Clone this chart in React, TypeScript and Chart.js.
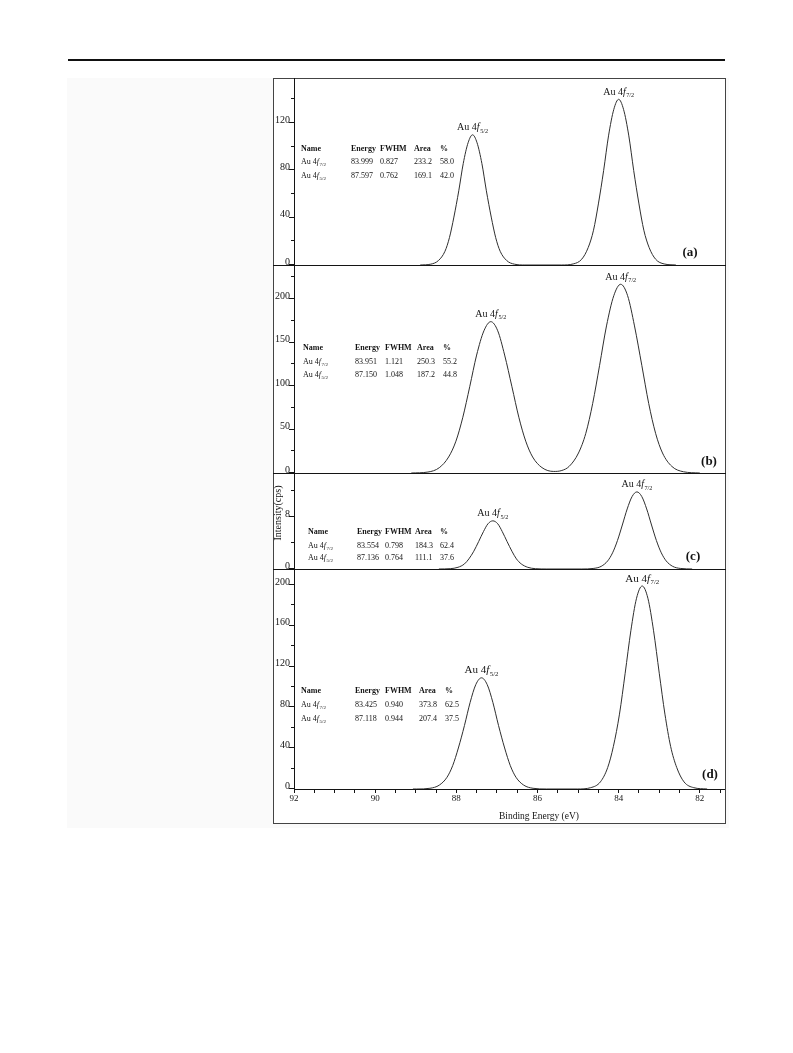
import { useEffect, useRef } from "react";
import { Chart, registerables } from "chart.js";

Chart.register(...registerables);

const SERIF = '"Liberation Serif", "Times New Roman", serif';
const INK = "#141414";
const TRACE = "#2e2e2e";

// ---------------------------------------------------------------------------
// Data
// ---------------------------------------------------------------------------

// Binding-energy axis (eV), running from high (left) to low (right)
const energyAxisLeft = 92;
const energyAxisRight = 81.38;
const energyTickStep = 0.5;
const energyLabels = [92, 90, 88, 86, 84, 82];

// (a) Au 4f envelope: binding energy (eV) and intensity (cps)
const energyA = [
  88.89, 88.63, 88.44, 88.28, 88.17, 88.06, 87.94, 87.83, 87.71, 87.6, 87.49, 87.37, 87.26,
  87.14, 87.03, 86.92, 86.76, 86.57, 86.31, 85.41, 85.12, 84.91, 84.75, 84.62, 84.5, 84.37,
  84.25, 84.12, 84.0, 83.88, 83.75, 83.63, 83.5, 83.38, 83.25, 83.09, 82.88, 82.59,
];
const countsA = [
  0, 0.7, 3.8, 11.6, 23.1, 40.5, 62.7, 85.7, 103.3, 110, 103.3, 85.7, 62.7, 40.5, 23.1, 11.6,
  3.8, 0.7, 0, 0, 0.9, 4.9, 14.8, 29.4, 51.6, 79.9, 109.1, 131.5, 140, 131.5, 109.1, 79.9, 51.6,
  29.4, 14.8, 4.9, 0.9, 0,
];

// (b)
const energyB = [
  89.11, 88.7, 88.42, 88.19, 88.01, 87.84, 87.67, 87.5, 87.32, 87.15, 86.98, 86.81, 86.63,
  86.46, 86.29, 86.12, 85.89, 85.6, 85.4, 85.22, 84.99, 84.81, 84.64, 84.47, 84.3, 84.12, 83.95,
  83.78, 83.61, 83.43, 83.26, 83.09, 82.92, 82.69, 82.4, 82.0,
];
const countsB = [
  0, 1.1, 6.1, 18.4, 36.6, 64.1, 99.2, 135.6, 163.5, 174, 163.5, 135.6, 99.2, 64.1, 36.6, 18.4,
  6.2, 1.8, 2.9, 7.6, 23.0, 45.6, 80.0, 123.8, 169.1, 203.9, 217, 203.9, 169.1, 123.8, 80.0,
  45.6, 23.0, 7.6, 1.4, 0,
];

// (c)
const energyC = [
  88.43, 88.15, 87.96, 87.8, 87.69, 87.57, 87.45, 87.33, 87.22, 87.1, 86.98, 86.87, 86.75,
  86.63, 86.52, 86.4, 86.24, 86.05, 85.77, 84.91, 84.63, 84.43, 84.27, 84.15, 84.03, 83.91,
  83.79, 83.67, 83.55, 83.43, 83.31, 83.19, 83.07, 82.95, 82.83, 82.67, 82.47, 82.19,
];
const countsC = [
  0, 0.05, 0.26, 0.78, 1.56, 2.73, 4.22, 5.77, 6.95, 7.4, 6.95, 5.77, 4.22, 2.73, 1.56, 0.78,
  0.26, 0.05, 0, 0, 0.08, 0.41, 1.25, 2.49, 4.37, 6.76, 9.23, 11.13, 11.85, 11.13, 9.23, 6.76,
  4.37, 2.49, 1.25, 0.41, 0.08, 0,
];

// (d)
const energyD = [
  89.07, 88.98, 88.65, 88.42, 88.23, 88.09, 87.95, 87.8, 87.66, 87.52, 87.38, 87.24, 87.1,
  86.96, 86.81, 86.67, 86.53, 86.34, 86.11, 85.78, 85.02, 84.69, 84.45, 84.27, 84.13, 83.98,
  83.84, 83.7, 83.56, 83.42, 83.28, 83.14, 83.0, 82.86, 82.72, 82.57, 82.39, 82.15, 81.82,
];
const countsD = [
  0, 0, 0.7, 3.8, 11.5, 22.9, 40.2, 62.2, 84.9, 102.4, 109, 102.4, 84.9, 62.2, 40.2, 22.9,
  11.5, 3.8, 0.7, 0, 0, 1.3, 7.0, 21.1, 41.8, 73.4, 113.5, 155.1, 187.0, 199, 187.0, 155.1,
  113.5, 73.4, 41.8, 21.1, 7.0, 1.3, 0,
];

// Spin-orbit components, in the order their peaks appear from left to right
const peakSubscripts = ["5/2", "7/2"];

// Fit summary tables
const tableHeader = ["Name", "Energy", "FWHM", "Area", "%"];
const tableRowSubscripts = ["7/2", "5/2"];
const fitA = [
  ["83.999", "0.827", "233.2", "58.0"],
  ["87.597", "0.762", "169.1", "42.0"],
];
const fitB = [
  ["83.951", "1.121", "250.3", "55.2"],
  ["87.150", "1.048", "187.2", "44.8"],
];
const fitC = [
  ["83.554", "0.798", "184.3", "62.4"],
  ["87.136", "0.764", "111.1", "37.6"],
];
const fitD = [
  ["83.425", "0.940", "373.8", "62.5"],
  ["87.118", "0.944", "207.4", "37.5"],
];

// Intensity axes: labelled ticks, minor tick step, upper limit
const yLabelsA = [0, 40, 80, 120];
const yLabelsB = [0, 50, 100, 150, 200];
const yLabelsC = [0, 8];
const yLabelsD = [0, 40, 80, 120, 160, 200];
const yStepA = 20;
const yStepB = 25;
const yStepC = 4;
const yStepD = 20;
const yMaxA = 158;
const yMaxB = 238;
const yMaxC = 14.6;
const yMaxD = 214.7;

const xAxisTitle = "Binding Energy (eV)";
const yAxisTitle = "Intensity(cps)";

// ---------------------------------------------------------------------------
// Layout (page pixels)
// ---------------------------------------------------------------------------

const FRAME_LEFT = 273;
const FRAME_TOP = 78;
const FRAME_W = 453;
const FRAME_H = 746;
const CANVAS_W = 452;
const AXIS_W = 21;
const X_AXIS_H = 34;
const TABLE_FONT = 8;
const SEPARATORS = [265, 473, 569];

type Panel = {
  letter: string;
  energy: number[];
  counts: number[];
  fit: string[][];
  yLabels: number[];
  yStep: number;
  yMax: number;
  top: number;
  height: number;
  padBottom: number;
  showX: boolean;
  tableCols: number[];
  tableRows: number[];
  letterAt: [number, number];
  peakFont: number;
  extra?: (ctx: CanvasRenderingContext2D, ox: number, oy: number) => void;
};

const panels: Panel[] = [
  {
    letter: "a",
    energy: energyA,
    counts: countsA,
    fit: fitA,
    yLabels: yLabelsA,
    yStep: yStepA,
    yMax: yMaxA,
    top: 78,
    height: 189,
    padBottom: 2,
    showX: false,
    tableCols: [301, 351, 380, 414, 440],
    tableRows: [148, 161, 175],
    letterAt: [690, 253],
    peakFont: 10,
  },
  {
    letter: "b",
    energy: energyB,
    counts: countsB,
    fit: fitB,
    yLabels: yLabelsB,
    yStep: yStepB,
    yMax: yMaxB,
    top: 266,
    height: 209,
    padBottom: 2,
    showX: false,
    tableCols: [303, 355, 385, 417, 443],
    tableRows: [347, 361, 374],
    letterAt: [709, 462],
    peakFont: 10,
  },
  {
    letter: "c",
    energy: energyC,
    counts: countsC,
    fit: fitC,
    yLabels: yLabelsC,
    yStep: yStepC,
    yMax: yMaxC,
    top: 474,
    height: 97,
    padBottom: 2,
    showX: false,
    tableCols: [308, 357, 385, 415, 440],
    tableRows: [531, 545, 557],
    letterAt: [693, 557],
    peakFont: 10,
    extra: (ctx, ox, oy) => {
      ctx.save();
      ctx.translate(278 - ox, 513 - oy);
      ctx.rotate(-Math.PI / 2);
      ctx.font = `10px ${SERIF}`;
      ctx.textAlign = "center";
      ctx.textBaseline = "middle";
      ctx.fillText(yAxisTitle, 0, 0);
      ctx.restore();
    },
  },
  {
    letter: "d",
    energy: energyD,
    counts: countsD,
    fit: fitD,
    yLabels: yLabelsD,
    yStep: yStepD,
    yMax: yMaxD,
    top: 570,
    height: 253,
    padBottom: 0,
    showX: true,
    tableCols: [301, 355, 385, 419, 445],
    tableRows: [690, 704, 718],
    letterAt: [710, 775],
    peakFont: 11,
    extra: (ctx, ox, oy) => {
      ctx.font = `9.5px ${SERIF}`;
      ctx.textAlign = "center";
      ctx.textBaseline = "middle";
      ctx.fillText(xAxisTitle, 539 - ox, 816 - oy);
    },
  },
];

// ---------------------------------------------------------------------------
// Drawing helpers
// ---------------------------------------------------------------------------

// "Au 4f" with italic f and a lowered level subscript; y is the text baseline
function drawLevel(
  ctx: CanvasRenderingContext2D,
  x: number,
  y: number,
  size: number,
  sub: string,
  align: "left" | "center"
) {
  const main = "Au 4";
  const subSize = size * 0.62;
  ctx.font = `${size}px ${SERIF}`;
  const w1 = ctx.measureText(main).width;
  ctx.font = `italic ${size}px ${SERIF}`;
  const w2 = ctx.measureText("f").width;
  ctx.font = `${subSize}px ${SERIF}`;
  const w3 = ctx.measureText(sub).width;
  const total = w1 + w2 + 0.6 + w3;
  let cx = align === "center" ? x - total / 2 : x;
  ctx.textAlign = "left";
  ctx.textBaseline = "alphabetic";
  ctx.font = `${size}px ${SERIF}`;
  ctx.fillText(main, cx, y);
  cx += w1;
  ctx.font = `italic ${size}px ${SERIF}`;
  ctx.fillText("f", cx, y);
  cx += w2 + 0.6;
  ctx.font = `${subSize}px ${SERIF}`;
  ctx.fillText(sub, cx, y + size * 0.22);
}

function localMaxima(values: number[]): number[] {
  const out: number[] = [];
  for (let i = 1; i < values.length - 1; i++) {
    if (values[i] > values[i - 1] && values[i] > values[i + 1]) out.push(i);
  }
  return out;
}

function decorPlugin(p: Panel) {
  return {
    id: "panelDecor",
    afterDraw(chart: any) {
      const ctx: CanvasRenderingContext2D = chart.ctx;
      const area = chart.chartArea;
      const xs = chart.scales.x;
      const ys = chart.scales.y;
      const ox = FRAME_LEFT;
      const oy = p.top;
      ctx.save();

      // intensity tick marks: long at labelled values, short in between
      const ax = Math.round(area.left);
      ctx.strokeStyle = INK;
      ctx.lineWidth = 1;
      ctx.beginPath();
      ys.ticks.forEach((t: any) => {
        const py = Math.round(ys.getPixelForValue(t.value)) - 0.5;
        const len = p.yLabels.includes(t.value) ? 5 : 3;
        ctx.moveTo(ax - len, py);
        ctx.lineTo(ax, py);
      });
      ctx.stroke();

      // peak names over each maximum
      ctx.fillStyle = INK;
      localMaxima(p.counts).forEach((i, k) => {
        const px = xs.getPixelForValue(p.energy[i]);
        const py = ys.getPixelForValue(p.counts[i]);
        drawLevel(ctx, px, py - 4.5, p.peakFont, peakSubscripts[k], "center");
      });

      // fit summary table
      ctx.font = `bold ${TABLE_FONT}px ${SERIF}`;
      ctx.textAlign = "left";
      ctx.textBaseline = "alphabetic";
      tableHeader.forEach((h, j) => {
        ctx.fillText(h, p.tableCols[j] - ox, p.tableRows[0] - oy + 3);
      });
      p.fit.forEach((row, r) => {
        const by = p.tableRows[r + 1] - oy + 3;
        drawLevel(ctx, p.tableCols[0] - ox, by, TABLE_FONT, tableRowSubscripts[r], "left");
        ctx.font = `${TABLE_FONT}px ${SERIF}`;
        ctx.textAlign = "left";
        row.forEach((v, j) => ctx.fillText(v, p.tableCols[j + 1] - ox, by));
      });

      // panel letter
      ctx.font = `bold 13px ${SERIF}`;
      ctx.textAlign = "center";
      ctx.textBaseline = "middle";
      ctx.fillText(`(${p.letter})`, p.letterAt[0] - ox, p.letterAt[1] - oy);

      if (p.extra) p.extra(ctx, ox, oy);
      ctx.restore();
    },
  };
}

function buildConfig(p: Panel): any {
  return {
    type: "line",
    data: {
      datasets: [
        {
          data: p.energy.map((e, i) => ({ x: e, y: p.counts[i] })),
          borderColor: TRACE,
          borderWidth: 1,
          pointRadius: 0,
          pointHoverRadius: 0,
          fill: false,
          cubicInterpolationMode: "monotone",
        },
      ],
    },
    options: {
      animation: false,
      responsive: false,
      events: [],
      layout: { padding: { top: 0, left: 0, right: 0, bottom: p.padBottom } },
      plugins: {
        legend: { display: false },
        tooltip: { enabled: false },
        title: { display: false },
      },
      scales: {
        x: {
          type: "linear",
          reverse: true,
          min: energyAxisRight,
          max: energyAxisLeft,
          display: p.showX,
          grid: {
            drawOnChartArea: false,
            drawTicks: true,
            tickLength: 4,
            color: INK,
            lineWidth: 1,
          },
          border: { display: true, color: INK, width: 1 },
          ticks: {
            stepSize: energyTickStep,
            includeBounds: false,
            autoSkip: false,
            maxTicksLimit: 100,
            maxRotation: 0,
            minRotation: 0,
            padding: 0,
            color: INK,
            font: { family: SERIF, size: 9 },
            callback: (v: number) => (energyLabels.includes(v) ? String(v) : ""),
          },
          afterFit: (s: any) => {
            s.height = p.showX ? X_AXIS_H : 0;
            s.paddingLeft = 0;
            s.paddingRight = 0;
          },
        },
        y: {
          type: "linear",
          position: "left",
          min: 0,
          max: p.yMax,
          grid: { display: true, drawOnChartArea: false, drawTicks: false },
          border: { display: true, color: INK, width: 1 },
          ticks: {
            stepSize: p.yStep,
            includeBounds: false,
            autoSkip: false,
            maxTicksLimit: 100,
            padding: 4,
            labelOffset: -3,
            color: INK,
            font: { family: SERIF, size: 10 },
            callback: (v: number) => (p.yLabels.includes(v) ? String(v) : ""),
          },
          afterFit: (s: any) => {
            s.width = AXIS_W;
            s.paddingTop = 0;
            s.paddingBottom = 0;
          },
        },
      },
    },
    plugins: [decorPlugin(p)],
  };
}

function PanelChart({ panel }: { panel: Panel }) {
  const ref = useRef<HTMLCanvasElement>(null);
  useEffect(() => {
    if (!ref.current) return;
    const chart = new Chart(ref.current, buildConfig(panel));
    return () => chart.destroy();
  }, [panel]);
  return (
    <canvas
      ref={ref}
      width={CANVAS_W}
      height={panel.height}
      style={{
        position: "absolute",
        left: FRAME_LEFT,
        top: panel.top,
        width: CANVAS_W,
        height: panel.height,
      }}
    />
  );
}

export default function App() {
  return (
    <div
      style={{
        position: "absolute",
        left: 0,
        top: 0,
        width: 793,
        height: 1053,
        background: "#ffffff",
        overflow: "hidden",
      }}
    >
      {/* running rule at the head of the page */}
      <div
        style={{ position: "absolute", left: 68, top: 59, width: 657, height: 2, background: "#111" }}
      />
      {/* faint figure backdrop */}
      <div
        style={{ position: "absolute", left: 67, top: 78, width: 662, height: 750, background: "#fafafa" }}
      />
      {/* figure frame */}
      <div
        style={{
          position: "absolute",
          left: FRAME_LEFT,
          top: FRAME_TOP,
          width: FRAME_W,
          height: FRAME_H,
          boxSizing: "border-box",
          border: "1px solid #444",
          background: "#ffffff",
        }}
      />
      {panels.map((p) => (
        <PanelChart key={p.letter} panel={p} />
      ))}
      {/* panel dividers */}
      {SEPARATORS.map((y) => (
        <div
          key={y}
          style={{ position: "absolute", left: FRAME_LEFT, top: y, width: FRAME_W, height: 1, background: INK }}
        />
      ))}
    </div>
  );
}
